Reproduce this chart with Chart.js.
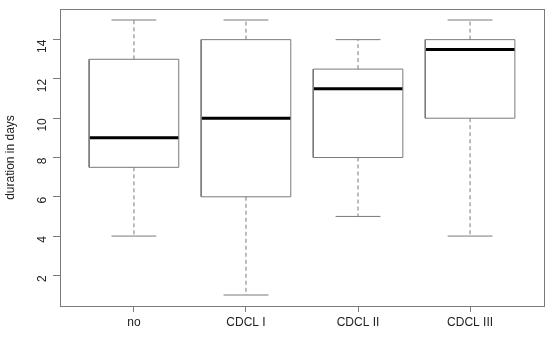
<!DOCTYPE html>
<html>
<head>
<meta charset="utf-8">
<script src="https://cdn.jsdelivr.net/npm/chart.js@4/dist/chart.umd.min.js"></script>
<style>
html,body{margin:0;padding:0;background:#fff;}
#wrap{width:550px;height:338px;position:relative;}
</style>
</head>
<body>
<div id="wrap"><canvas id="c" width="550" height="338"></canvas></div>
<script>
// ---- data ----
const categories = ["no", "CDCL I", "CDCL II", "CDCL III"];
const whiskerLow  = [4, 1, 5, 4];
const quartile1   = [7.5, 6, 8, 10];
const medians     = [9, 10, 11.5, 13.5];
const quartile3   = [13, 14, 12.5, 14];
const whiskerHigh = [15, 15, 14, 15];
const yTicks = [2, 4, 6, 8, 10, 12, 14];

// ---- styling constants ----
const BOX_HALF = 0.4;
const CAP_HALF = 0.2;
const GREY = "#7a7a7a";
const FONT = {family: "'Liberation Sans', Arial, sans-serif", size: 12};

const boxPts = [], medPts = [], whiskPts = [], capPts = [];
categories.forEach((c, i) => {
  const x = i + 1;
  boxPts.push({x: x - BOX_HALF, y: quartile1[i]}, {x: x + BOX_HALF, y: quartile1[i]},
              {x: x + BOX_HALF, y: quartile3[i]}, {x: x - BOX_HALF, y: quartile3[i]},
              {x: x - BOX_HALF, y: quartile1[i]}, {x: NaN, y: null});
  medPts.push({x: x - BOX_HALF, y: medians[i]}, {x: x + BOX_HALF, y: medians[i]}, {x: NaN, y: null});
  whiskPts.push({x: x, y: quartile3[i]}, {x: x, y: whiskerHigh[i]}, {x: NaN, y: null},
                {x: x, y: quartile1[i]}, {x: x, y: whiskerLow[i]}, {x: NaN, y: null});
  capPts.push({x: x - CAP_HALF, y: whiskerHigh[i]}, {x: x + CAP_HALF, y: whiskerHigh[i]}, {x: NaN, y: null},
              {x: x - CAP_HALF, y: whiskerLow[i]}, {x: x + CAP_HALF, y: whiskerLow[i]}, {x: NaN, y: null});
});

const lineDs = (data, color, width, dash) => ({
  data, borderColor: color, borderWidth: width, borderDash: dash || [],
  showLine: true, spanGaps: false, pointRadius: 0, pointHoverRadius: 0,
  fill: false, tension: 0, borderCapStyle: 'butt'
});

const frame = {
  id: 'frame',
  afterDraw(chart) {
    const a = chart.chartArea, ctx = chart.ctx;
    ctx.save();
    ctx.strokeStyle = GREY; ctx.lineWidth = 1;
    ctx.strokeRect(Math.round(a.left) + 0.5, Math.round(a.top) + 0.5,
                   Math.round(a.right - a.left), Math.round(a.bottom - a.top));
    ctx.restore();
  }
};

new Chart(document.getElementById('c'), {
  type: 'scatter',
  data: {
    datasets: [
      lineDs(whiskPts, GREY, 1, [4, 3]),
      lineDs(capPts, GREY, 1),
      lineDs(boxPts, GREY, 1),
      lineDs(medPts, '#000', 3)
    ]
  },
  options: {
    responsive: false,
    animation: false,
    events: [],
    layout: {padding: {top: 9, right: 6, left: 0, bottom: 0}},
    plugins: {legend: {display: false}, tooltip: {enabled: false}},
    scales: {
      x: {
        type: 'linear', min: 0.34, max: 4.66,
        afterBuildTicks: s => { s.ticks = categories.map((c, i) => ({value: i + 1})); },
        afterFit: s => { s.height = 32; s.paddingLeft = 0; s.paddingRight = 0; },
        ticks: {
          callback: v => categories[v - 1],
          color: '#222', font: FONT, padding: 3, maxRotation: 0, autoSkip: false
        },
        grid: {drawOnChartArea: false, drawTicks: true, tickLength: 6, color: GREY},
        border: {display: true, color: GREY}
      },
      y: {
        type: 'linear', min: 0.44, max: 15.56,
        afterBuildTicks: s => { s.ticks = yTicks.map(v => ({value: v})); },
        afterFit: s => { s.width = 60; s.paddingTop = 0; s.paddingBottom = 0; },
        ticks: {color: '#222', font: FONT, padding: 10, minRotation: 90, maxRotation: 90, autoSkip: false},
        grid: {drawOnChartArea: false, drawTicks: true, tickLength: 7, color: GREY},
        border: {display: true, color: GREY},
        title: {display: true, text: 'duration in days', color: '#222', font: FONT, padding: {top: 3, bottom: 0}}
      }
    }
  },
  plugins: [frame]
});
</script>
</body>
</html>
